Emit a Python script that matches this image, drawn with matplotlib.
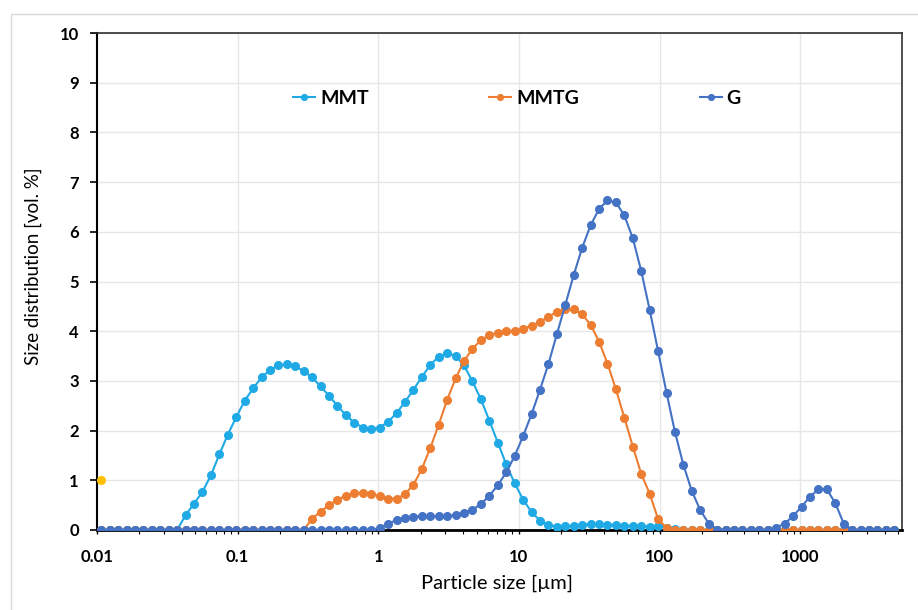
import matplotlib
matplotlib.use('Agg')
from matplotlib import pyplot as plt
import matplotlib.ticker as ticker
from matplotlib.patches import Rectangle

plt.rcParams['font.family'] = ['Lato', 'DejaVu Sans']

# size classes (class centres, um)
sizes = [0.010715, 0.012303, 0.014125, 0.016218, 0.018621, 0.021380, 0.024547, 0.028184,
         0.032359, 0.037154, 0.042658, 0.048978, 0.056234, 0.064565, 0.074131, 0.085114,
         0.097724, 0.11220, 0.12882, 0.14791, 0.16982, 0.19498, 0.22387, 0.25704,
         0.29512, 0.33884, 0.38905, 0.44668, 0.51286, 0.58884, 0.67608, 0.77625,
         0.89125, 1.0233, 1.1749, 1.3490, 1.5488, 1.7783, 2.0417, 2.3442,
         2.6915, 3.0903, 3.5481, 4.0738, 4.6774, 5.3703, 6.1660, 7.0795,
         8.1283, 9.3325, 10.715, 12.303, 14.125, 16.218, 18.621, 21.380,
         24.547, 28.184, 32.359, 37.154, 42.658, 48.978, 56.234, 64.565,
         74.131, 85.114, 97.724, 112.20, 128.82, 147.91, 169.82, 194.98,
         223.87, 257.04, 295.12, 338.84, 389.05, 446.68, 512.86, 588.84,
         676.08, 776.25, 891.25, 1023.3, 1174.9, 1349.0, 1548.8, 1778.3,
         2041.7, 2344.2, 2691.5, 3090.3, 3548.1, 4073.8, 4677.4]

mmt = [0, 0, 0, 0, 0, 0, 0, 0, 0, 0,
       0.30, 0.53, 0.77, 1.10, 1.52, 1.92, 2.27, 2.60, 2.85, 3.07,
       3.22, 3.31, 3.33, 3.29, 3.20, 3.07, 2.89, 2.70, 2.50, 2.31,
       2.16, 2.06, 2.03, 2.06, 2.18, 2.35, 2.58, 2.82, 3.08, 3.32,
       3.49, 3.56, 3.50, 3.31, 2.99, 2.63, 2.20, 1.76, 1.32, 0.94,
       0.61, 0.36, 0.19, 0.10, 0.07, 0.08, 0.09, 0.11, 0.12, 0.12,
       0.11, 0.10, 0.09, 0.08, 0.08, 0.07, 0.08, 0.05, 0.03, 0,
       0, 0, 0, 0, 0, 0, 0, 0, 0, 0,
       0, 0, 0, 0, 0, 0, 0, 0, 0, 0,
       0, 0, 0, 0, 0]

mmtg = [0, 0, 0, 0, 0, 0, 0, 0, 0, 0,
        0, 0, 0, 0, 0, 0, 0, 0, 0, 0,
        0, 0, 0, 0, 0, 0.23, 0.37, 0.50, 0.61, 0.69,
        0.74, 0.75, 0.72, 0.68, 0.63, 0.63, 0.72, 0.91, 1.23, 1.65,
        2.12, 2.62, 3.05, 3.40, 3.65, 3.82, 3.92, 3.97, 4.00, 4.01,
        4.05, 4.11, 4.19, 4.29, 4.39, 4.44, 4.45, 4.34, 4.13, 3.79,
        3.35, 2.83, 2.26, 1.68, 1.13, 0.73, 0.22, 0.04, 0, 0,
        0, 0, 0, 0, 0, 0, 0, 0, 0, 0,
        0, 0, 0, 0, 0, 0, 0, 0, 0, 0,
        0, 0, 0, 0, 0]

g = [0, 0, 0, 0, 0, 0, 0, 0, 0, 0,
     0, 0, 0, 0, 0, 0, 0, 0, 0, 0,
     0, 0, 0, 0, 0, 0, 0, 0, 0, 0,
     0, 0, 0, 0.04, 0.13, 0.20, 0.25, 0.27, 0.28, 0.28,
     0.28, 0.28, 0.30, 0.35, 0.41, 0.52, 0.69, 0.90, 1.16, 1.49,
     1.89, 2.33, 2.82, 3.34, 3.94, 4.53, 5.13, 5.68, 6.13, 6.46,
     6.63, 6.59, 6.33, 5.87, 5.21, 4.43, 3.60, 2.76, 1.97, 1.31,
     0.78, 0.40, 0.13, 0.01, 0, 0, 0, 0, 0, 0,
     0.05, 0.13, 0.28, 0.47, 0.67, 0.82, 0.82, 0.54, 0.13, 0,
     0, 0, 0, 0, 0]

stray_x = [0.010715]
stray_y = [1.0]

xticks = [0.01, 0.1, 1, 10, 100, 1000]
xtick_labels = ['0.01', '0.1', '1', '10', '100', '1000']

f = plt.figure(figsize=(9.18, 6.10), dpi=100)
ax = f.add_axes([97/918, 1-530/610, 805/918, 497/610])

# light chart frame
f.add_artist(Rectangle((11/918, -0.1), 1.2, 1.1 - 14/610, transform=f.transFigure,
                       fill=False, edgecolor='#d9d9d9', linewidth=1))

ax.plot(sizes, mmt, c='#1FAAE6', lw=1.5, marker='o', ms=5.5, label='MMT', zorder=3)
ax.plot(sizes, mmtg, c='#ED7D31', lw=1.5, marker='o', ms=5.5, label='MMTG', zorder=4)
ax.plot(sizes, g, c='#4472C4', lw=1.5, marker='o', ms=5.5, label='G', zorder=5)
ax.plot(stray_x, stray_y, ls='none', marker='o', ms=5.5, c='#FFC000', zorder=6)

ax.set_xscale('log')
ax.set_xlim(0.01, 5300)
ax.set_ylim(0, 10)
ax.xaxis.set_major_locator(ticker.FixedLocator(xticks))
ax.xaxis.set_major_formatter(ticker.FixedFormatter(xtick_labels))
ax.xaxis.set_minor_locator(ticker.LogLocator(base=10, subs=range(2, 10), numticks=20))
ax.xaxis.set_minor_formatter(ticker.NullFormatter())
ax.yaxis.set_major_locator(ticker.MultipleLocator(1))

ax.grid(which='major', color='#e6e6e6', linestyle='-', linewidth=1)
ax.set_axisbelow(True)

for lab in ax.get_xticklabels() + ax.get_yticklabels():
    lab.set_fontweight('bold')
ax.tick_params(axis='y', which='major', direction='out', length=5, width=1.2,
               labelsize=12, pad=8)
ax.tick_params(axis='x', which='major', direction='out', length=3, width=1,
               labelsize=12, pad=11)
ax.tick_params(axis='x', which='minor', direction='out', length=3, width=0.8)

ax.spines['left'].set_linewidth(1.5)
ax.spines['bottom'].set_linewidth(2)
ax.spines['top'].set_linewidth(1.2)
ax.spines['right'].set_linewidth(1.2)
ax.spines['top'].set_color('#303030')
ax.spines['right'].set_color('#303030')

ax.set_ylabel('Size distribution [vol. %]', fontsize=13.5)
ax.set_xlabel('Particle size [µm]', fontsize=14.5)
ax.yaxis.set_label_coords(-0.068, 0.531)
ax.xaxis.label.set_va('center')
ax.xaxis.set_label_coords(0.497, -0.107)

leg = ax.legend(ncol=3, loc='center left', bbox_to_anchor=(0.2435, 0.869),
                frameon=False, borderpad=0, borderaxespad=0, fontsize=14,
                handlelength=1.13, handletextpad=0.26, columnspacing=6.2,
                markerscale=0.75)
for t in leg.get_texts():
    t.set_fontweight('bold')

f.savefig('out.png', dpi=100)
print('done')
